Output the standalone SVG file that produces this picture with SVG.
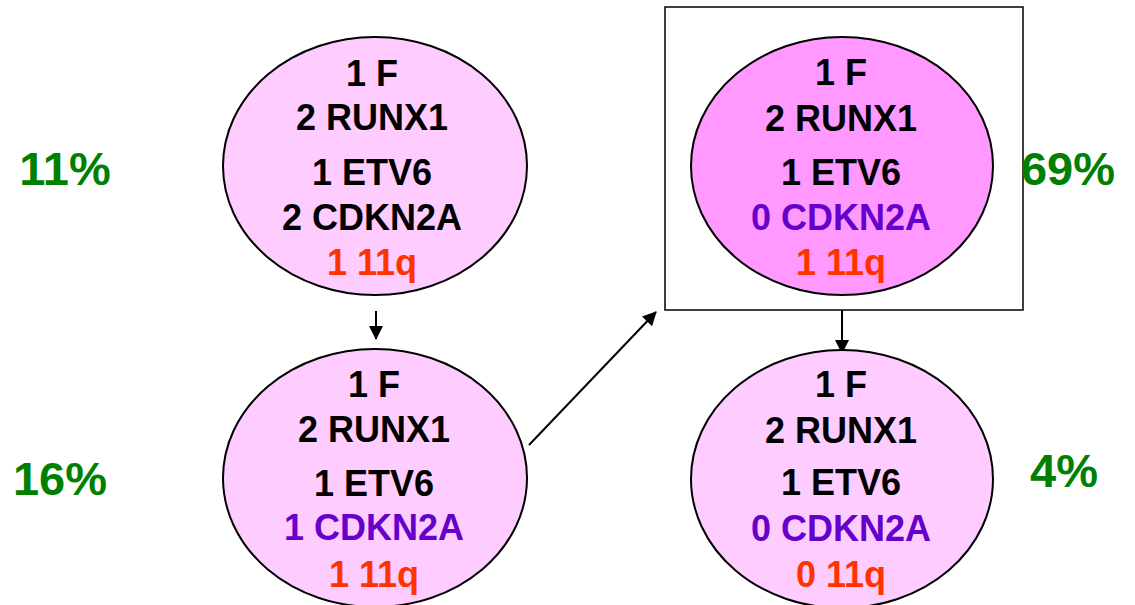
<svg xmlns="http://www.w3.org/2000/svg" width="1135" height="605" viewBox="0 0 1135 605">
<style>
.n{stroke:#000;stroke-width:2}
.l{fill:#FFCCFF}
.h{fill:#FF99FF}
text{font-family:"Liberation Sans",Arial,sans-serif;font-weight:bold;text-anchor:middle}
.t{font-size:36px;fill:#000}
.p{fill:#6600CC}
.r{fill:#FF3300}
.g{font-size:47px;fill:#008000}
.c{stroke:#000;stroke-width:2;fill:none}
</style>
<defs>
<marker id="ah2" markerWidth="14" markerHeight="14" refX="13" refY="7" orient="auto" markerUnits="userSpaceOnUse" viewBox="0 0 14 14">
<path d="M0,0 L14,7 L0,14 z" fill="#000"/>
</marker>
</defs>
<rect x="665" y="7" width="358" height="303" fill="none" stroke="#000" stroke-width="1.5"/>
<g id="connectors">
<line class="c" x1="376" y1="311" x2="376" y2="339" marker-end="url(#ah2)"/>
<line class="c" x1="529" y1="445" x2="656" y2="312" marker-end="url(#ah2)"/>
<line class="c" x1="842" y1="310" x2="842" y2="353" marker-end="url(#ah2)"/>
</g>
<g id="node1">
<ellipse class="n l" cx="375" cy="166" rx="152" ry="129"/>
<text class="t" x="372" y="86">1 F</text>
<text class="t" x="372" y="130">2 RUNX1</text>
<text class="t" x="372" y="185">1 ETV6</text>
<text class="t" x="372" y="230">2 CDKN2A</text>
<text class="t r" x="372" y="275">1 11q</text>
</g>
<g id="node2">
<ellipse class="n l" cx="375" cy="478" rx="152" ry="129"/>
<text class="t" x="374" y="397">1 F</text>
<text class="t" x="374" y="442">2 RUNX1</text>
<text class="t" x="374" y="496">1 ETV6</text>
<text class="t p" x="374" y="540">1 CDKN2A</text>
<text class="t r" x="374" y="587">1 11q</text>
</g>
<g id="node3">
<ellipse class="n h" cx="842" cy="166" rx="151" ry="129"/>
<text class="t" x="841" y="85">1 F</text>
<text class="t" x="841" y="131">2 RUNX1</text>
<text class="t" x="841" y="185">1 ETV6</text>
<text class="t p" x="841" y="230">0 CDKN2A</text>
<text class="t r" x="841" y="275">1 11q</text>
</g>
<g id="node4">
<ellipse class="n l" cx="842" cy="479" rx="151" ry="129"/>
<text class="t" x="841" y="397">1 F</text>
<text class="t" x="841" y="443">2 RUNX1</text>
<text class="t" x="841" y="495">1 ETV6</text>
<text class="t p" x="841" y="541">0 CDKN2A</text>
<text class="t r" x="841" y="587">0 11q</text>
</g>
<g id="labels">
<text class="g" x="65" y="185">11%</text>
<text class="g" x="60" y="495">16%</text>
<text class="g" x="1068" y="185">69%</text>
<text class="g" x="1064" y="487">4%</text>
</g>
</svg>
